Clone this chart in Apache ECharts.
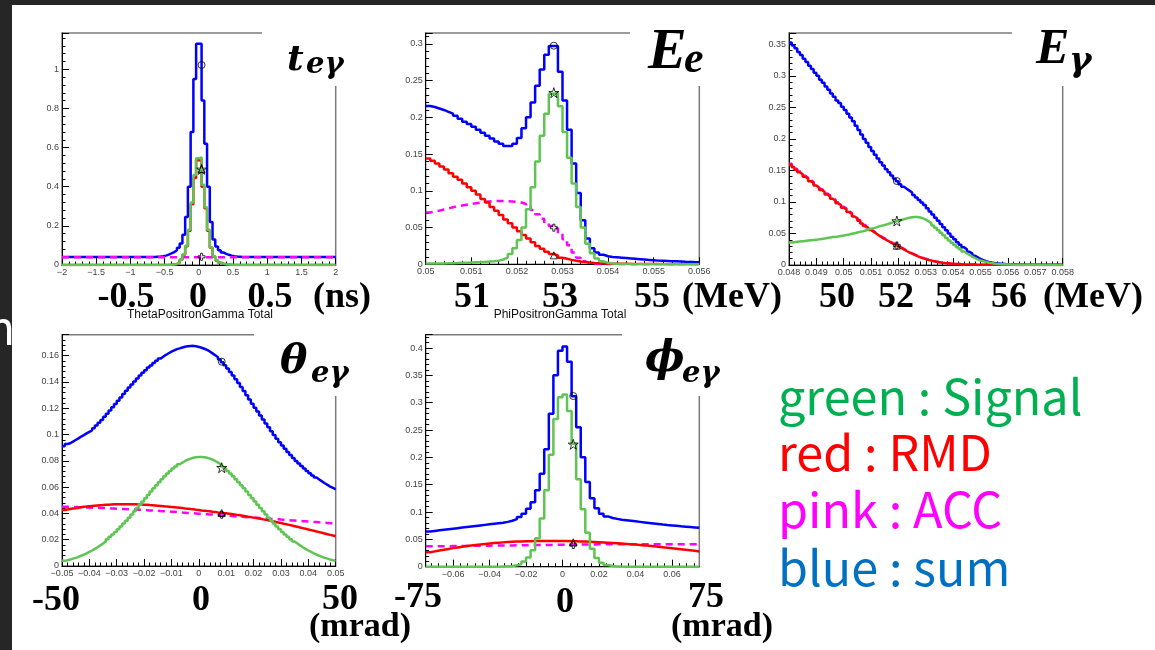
<!DOCTYPE html>
<html>
<head>
<meta charset="utf-8">
<title>Signal / RMD / ACC PDFs</title>
<script src="https://cdn.jsdelivr.net/npm/echarts@6/dist/echarts.min.js"></script>
<style>
html, body { margin: 0; padding: 0; background: #ffffff; }
#chart { width: 1155px; height: 650px; }
</style>
</head>
<body>
<div id="chart"></div>
<script>
// ---------- t_eγ : 100 bins, -2 .. 2 ns ----------
const tBinning = [-2, 0.04];
const tSum = [
  0.041,0.041,0.041,0.041,0.041,0.041,0.041,0.041,0.041,0.041,
  0.041,0.041,0.041,0.041,0.041,0.041,0.041,0.041,0.041,0.041,
  0.041,0.041,0.041,0.041,0.041,0.041,0.041,0.041,0.041,0.041,
  0.041,0.041,0.041,0.041,0.042,0.043,0.045,0.048,0.053,0.059,
  0.066,0.075,0.088,0.11,0.155,0.245,0.40,0.68,0.95,1.13,
  1.13,0.84,0.62,0.40,0.22,0.13,0.095,0.075,0.064,0.057,
  0.052,0.048,0.045,0.043,0.042,0.041,0.041,0.041,0.041,0.041,
  0.041,0.041,0.041,0.041,0.041,0.041,0.041,0.041,0.041,0.041,
  0.041,0.041,0.041,0.041,0.041,0.041,0.041,0.041,0.041,0.041,
  0.041,0.041,0.041,0.041,0.041,0.041,0.041,0.041,0.041,0.041
];
const tSig = [
  0,0,0,0,0,0,0,0,0,0, 0,0,0,0,0,0,0,0,0,0,
  0,0,0,0,0,0,0,0,0,0, 0,0,0,0,0,0,0,0,0,0.001,
  0.002,0.005,0.012,0.028,0.054,0.098,0.18,0.32,0.46,0.545,
  0.55,0.41,0.295,0.18,0.09,0.045,0.024,0.013,0.007,0.004,
  0.002,0.001,0,0,0,0,0,0,0,0, 0,0,0,0,0,0,0,0,0,0,
  0,0,0,0,0,0,0,0,0,0, 0,0,0,0,0,0,0,0,0,0
];
const tRmd = [
  0,0,0,0,0,0,0,0,0,0, 0,0,0,0,0,0,0,0,0,0,
  0,0,0,0,0,0,0,0,0,0, 0,0,0,0,0,0,0,0,0,0.001,
  0.002,0.005,0.011,0.027,0.052,0.096,0.175,0.31,0.445,0.535,
  0.54,0.40,0.29,0.175,0.088,0.044,0.023,0.012,0.007,0.004,
  0.002,0.001,0,0,0,0,0,0,0,0, 0,0,0,0,0,0,0,0,0,0,
  0,0,0,0,0,0,0,0,0,0, 0,0,0,0,0,0,0,0,0,0
];
const tAcc = [
  0.04,0.04,0.04,0.04,0.04,0.04,0.04,0.04,0.04,0.04,
  0.04,0.04,0.04,0.04,0.04,0.04,0.04,0.04,0.04,0.04,
  0.04,0.04,0.04,0.04,0.04,0.04,0.04,0.04,0.04,0.04,
  0.04,0.04,0.04,0.04,0.04,0.04,0.04,0.04,0.04,0.04,
  0.04,0.04,0.04,0.04,0.04,0.04,0.04,0.04,0.04,0.04,
  0.04,0.04,0.04,0.04,0.04,0.04,0.04,0.04,0.04,0.04,
  0.04,0.04,0.04,0.04,0.04,0.04,0.04,0.04,0.04,0.04,
  0.04,0.04,0.04,0.04,0.04,0.04,0.04,0.04,0.04,0.04,
  0.04,0.04,0.04,0.04,0.04,0.04,0.04,0.04,0.04,0.04,
  0.04,0.04,0.04,0.04,0.04,0.04,0.04,0.04,0.04,0.04
];
// marker x, then values for sum / signal / RMD / ACC
const tMarkX = 0.04;
const tMarkY = [1.022, 0.489, 0.49, 0.042];

// ---------- E_e : 60 bins, 0.050 .. 0.056 GeV ----------
const eBinning = [0.05, 0.0001];
const eSum = [
  0.2155,0.214,0.212,0.210,0.2075,0.205,0.202,0.198,0.194,0.191,
  0.187,0.183,0.179,0.175,0.171,0.167,0.164,0.161,0.161,0.164,
  0.172,0.185,0.20,0.22,0.243,0.265,0.285,0.297,0.297,0.262,
  0.223,0.183,0.137,0.097,0.060,0.035,0.022,0.016,0.013,0.011,
  0.010,0.0095,0.009,0.0085,0.008,0.0075,0.007,0.0065,0.006,0.0055,
  0.005,0.0048,0.0045,0.0042,0.004,0.0038,0.0035,0.0033,0.003,0.0028
];
const eSig = [
  0.001,0.001,0.001,0.0012,0.0013,0.0015,0.0017,0.002,0.0022,0.0025,
  0.0028,0.003,0.0033,0.0037,0.0042,0.005,0.0065,0.009,0.014,0.022,
  0.033,0.05,0.075,0.105,0.14,0.175,0.205,0.232,0.233,0.215,
  0.18,0.145,0.11,0.078,0.05,0.028,0.015,0.008,0.004,0.002,
  0.0012,0.0008,0.0005,0.0004,0.0003,0.0002,0.0002,0.0001,0.0001,0.0001,
  0.0001,0,0,0,0,0,0,0,0,0
];
const eRmd = [
  0.144,0.141,0.137,0.133,0.129,0.124,0.119,0.115,0.110,0.105,
  0.100,0.095,0.089,0.084,0.078,0.073,0.067,0.061,0.056,0.050,
  0.045,0.040,0.035,0.030,0.025,0.021,0.017,0.014,0.012,0.009,
  0.0075,0.006,0.0048,0.0038,0.003,0.0024,0.0019,0.0015,0.0012,0.001,
  0.0009,0.0008,0.0007,0.0006,0.0005,0.0005,0.0004,0.0004,0.0003,0.0003,
  0.0003,0.0002,0.0002,0.0002,0.0002,0.0001,0.0001,0.0001,0.0001,0.0001
];
const eAcc = [
  0.0705,0.0715,0.073,0.0745,0.076,0.0775,0.079,0.080,0.081,0.082,
  0.083,0.084,0.085,0.0855,0.086,0.0862,0.0862,0.086,0.0855,0.085,
  0.084,0.082,0.079,0.074,0.068,0.062,0.056,0.052,0.049,0.042,
  0.034,0.026,0.016,0.009,0.004,0.0015,0,0,0,0,
  0,0,0,0,0,0,0,0,0,0,
  0,0,0,0,0,0,0,0,0,0
];
const eMarkX = 0.05281;
const eMarkY = [0.2974, 0.2335, 0.0122, 0.0498];

// ---------- E_γ : 100 bins, 0.048 .. 0.058 GeV ----------
const gBinning = [0.048, 0.0001];
const gSum = [
  0.353,0.348,0.344,0.338,0.333,0.327,0.322,0.316,0.311,0.305,
  0.300,0.294,0.289,0.283,0.278,0.272,0.267,0.261,0.257,0.251,
  0.246,0.240,0.234,0.228,0.221,0.214,0.207,0.200,0.194,0.187,
  0.181,0.175,0.169,0.163,0.158,0.152,0.147,0.142,0.137,0.133,
  0.128,0.124,0.121,0.118,0.115,0.111,0.107,0.103,0.099,0.095,
  0.090,0.085,0.080,0.075,0.070,0.065,0.060,0.055,0.050,0.045,
  0.041,0.036,0.032,0.028,0.025,0.021,0.018,0.0145,0.012,0.0095,
  0.0078,0.0062,0.005,0.004,0.0033,0.0027,0.0022,0.0018,0.0014,0.0012,
  0.0011,0.0009,0.0008,0.0007,0.0006,0.0006,0.0005,0.0005,0.0004,0.0004,
  0.0003,0.0003,0.0003,0.0003,0.0002,0.0002,0.0002,0.0002,0.0002,0.0002
];
const gSig = [
  0.0357,0.0362,0.0367,0.0372,0.0377,0.0382,0.0387,0.0392,0.0397,0.0402,
  0.0407,0.0414,0.0421,0.0429,0.0437,0.0443,0.0447,0.0453,0.0461,0.0469,
  0.0476,0.0485,0.0495,0.0505,0.0515,0.0525,0.0535,0.0548,0.0563,0.0577,
  0.0585,0.0597,0.0612,0.0625,0.0635,0.0648,0.0663,0.0677,0.0689,0.0701,
  0.0714,0.0726,0.0739,0.0750,0.0758,0.0763,0.0762,0.0753,0.0739,0.0719,
  0.0693,0.0665,0.0628,0.0590,0.0550,0.0510,0.0470,0.0430,0.0390,0.0352,
  0.0318,0.0283,0.0248,0.0215,0.0185,0.0158,0.0133,0.0110,0.0090,0.0071,
  0.0060,0.0050,0.0040,0.0032,0.0025,0.0020,0.0016,0.0013,0.0010,0.0008,
  0.0007,0.0005,0.0004,0.0004,0.0003,0.0003,0.0002,0.0002,0.0002,0.0002,
  0.0001,0.0001,0.0001,0.0001,0.0001,0.0001,0.0001,0.0001,0.0001,0.0001
];
const gRmd = [
  0.159,0.155,0.151,0.147,0.144,0.140,0.137,0.133,0.130,0.126,
  0.123,0.119,0.116,0.112,0.109,0.105,0.102,0.098,0.095,0.091,
  0.088,0.084,0.081,0.077,0.074,0.070,0.066,0.062,0.059,0.0555,
  0.0525,0.0495,0.0465,0.0435,0.0412,0.0388,0.0362,0.0338,0.0320,0.0300,
  0.0272,0.0248,0.0222,0.0198,0.0180,0.0160,0.0140,0.0122,0.0108,0.0093,
  0.0080,0.0070,0.0060,0.0050,0.0043,0.0037,0.0032,0.0028,0.0022,0.0019,
  0.0016,0.0014,0.0011,0.0009,0.0008,0.0008,0.0006,0.0006,0.0005,0.0005,
  0.0004,0.0004,0.0003,0.0003,0.0003,0.0003,0.0002,0.0002,0.0002,0.0002,
  0.0002,0.0002,0.0001,0.0001,0.0001,0.0001,0.0001,0.0001,0.0001,0.0001,
  0.0001,0.0001,0,0,0,0,0,0,0,0
];
const gAcc = [
  0.1605,0.1565,0.1525,0.1485,0.1455,0.1415,0.1385,0.1345,0.1315,0.1275,
  0.1245,0.1205,0.1175,0.1135,0.1105,0.1065,0.1035,0.0995,0.0965,0.0925,
  0.0895,0.0855,0.0825,0.0785,0.0755,0.0715,0.0675,0.0635,0.060,0.0565,
  0.0535,0.0505,0.0475,0.0445,0.0422,0.0398,0.0372,0.0348,0.033,0.031,
  0.0282,0.0258,0.0227,0.0203,0.0185,0.0165,0.0145,0.0127,0.0113,0.0098,
  0.0085,0.0075,0.0063,0.0053,0.0045,0.0039,0.0033,0.0029,0.0023,0.002,
  0.0016,0.0014,0.0011,0.0009,0.0008,0.0008,0.0006,0.0006,0.0005,0.0005,
  0.0004,0.0004,0.0003,0.0003,0.0003,0.0003,0.0002,0.0002,0.0002,0.0002,
  0.0002,0.0002,0.0001,0.0001,0.0001,0.0001,0.0001,0.0001,0.0001,0.0001,
  0.0001,0.0001,0,0,0,0,0,0,0,0
];
const gMarkX = 0.05194;
const gMarkY = [0.1332, 0.0698, 0.0306, 0.031];

// ---------- θ_eγ : 100 bins, -0.05 .. 0.05 rad ----------
const thBinning = [-0.05, 0.001];
const thSum = [
  0.0912,0.0928,0.0934,0.0946,0.0959,0.0971,0.0984,0.0996,0.1009,0.1021,
  0.1032,0.1049,0.107,0.109,0.111,0.1135,0.1158,0.1183,0.1208,0.1233,
  0.1258,0.1283,0.1308,0.1333,0.1358,0.1382,0.1404,0.1426,0.1449,0.147,
  0.149,0.151,0.1526,0.1544,0.1561,0.1578,0.1593,0.1607,0.1619,0.1631,
  0.164,0.165,0.1656,0.1663,0.1668,0.1673,0.1674,0.1675,0.1672,0.1667,
  0.1661,0.1653,0.1644,0.1633,0.1618,0.1603,0.1588,0.1571,0.155,0.1528,
  0.1503,0.1477,0.1449,0.1421,0.1392,0.1362,0.1331,0.1299,0.1266,0.1234,
  0.1205,0.1175,0.1145,0.1115,0.1085,0.1055,0.1025,0.0996,0.0968,0.0942,
  0.0917,0.0893,0.0868,0.0844,0.0821,0.0799,0.078,0.076,0.0741,0.0722,
  0.0705,0.0689,0.0673,0.0658,0.0644,0.063,0.0617,0.0604,0.0594,0.0583
];
const thSig = [
  0.0039,0.0044,0.0049,0.0056,0.0062,0.0070,0.0078,0.0087,0.0096,0.0107,
  0.0118,0.0130,0.0143,0.0157,0.0172,0.0187,0.0204,0.0222,0.0240,0.0259,
  0.0280,0.0301,0.0323,0.0345,0.0368,0.0392,0.0416,0.0441,0.0466,0.0491,
  0.0516,0.0541,0.0566,0.0591,0.0615,0.0638,0.0661,0.0683,0.0704,0.0723,
  0.0742,0.0758,0.0774,0.0787,0.0799,0.0809,0.0817,0.0824,0.0828,0.0830,
  0.0830,0.0828,0.0824,0.0817,0.0809,0.0799,0.0787,0.0774,0.0758,0.0742,
  0.0723,0.0704,0.0683,0.0661,0.0638,0.0615,0.0591,0.0566,0.0541,0.0516,
  0.0491,0.0466,0.0441,0.0416,0.0392,0.0368,0.0345,0.0323,0.0301,0.0280,
  0.0259,0.0240,0.0222,0.0204,0.0187,0.0172,0.0157,0.0143,0.0130,0.0118,
  0.0107,0.0096,0.0087,0.0078,0.0070,0.0062,0.0056,0.0049,0.0044,0.0039
];
const thRmd = [
  0.0426,0.0430,0.0433,0.0437,0.0440,0.0444,0.0447,0.0450,0.0452,0.0455,
  0.0457,0.0459,0.0461,0.0463,0.0464,0.0466,0.0467,0.0468,0.0469,0.0469,
  0.0470,0.0470,0.0470,0.0470,0.0470,0.0470,0.0469,0.0468,0.0468,0.0466,
  0.0466,0.0464,0.0463,0.0461,0.0459,0.0457,0.0455,0.0453,0.0451,0.0449,
  0.0447,0.0445,0.0443,0.0441,0.0438,0.0436,0.0433,0.0431,0.0428,0.0426,
  0.0423,0.0421,0.0418,0.0416,0.0413,0.0411,0.0408,0.0406,0.0403,0.0401,
  0.0398,0.0395,0.0392,0.0389,0.0386,0.0383,0.0379,0.0375,0.0372,0.0368,
  0.0365,0.0361,0.0357,0.0353,0.0349,0.0345,0.0340,0.0336,0.0331,0.0327,
  0.0322,0.0318,0.0313,0.0308,0.0303,0.0298,0.0293,0.0288,0.0283,0.0278,
  0.0273,0.0268,0.0263,0.0258,0.0253,0.0247,0.0242,0.0237,0.0232,0.0227
];
const thAcc = [
  0.0450,0.0450,0.0449,0.0449,0.0448,0.0448,0.0447,0.0447,0.0446,0.0445,
  0.0444,0.0444,0.0443,0.0442,0.0441,0.0440,0.0439,0.0438,0.0437,0.0436,
  0.0435,0.0434,0.0433,0.0432,0.0431,0.0430,0.0429,0.0428,0.0427,0.0426,
  0.0425,0.0423,0.0422,0.0421,0.0420,0.0418,0.0417,0.0416,0.0415,0.0413,
  0.0412,0.0410,0.0409,0.0407,0.0406,0.0404,0.0403,0.0401,0.0400,0.0398,
  0.0397,0.0395,0.0394,0.0392,0.0391,0.0389,0.0388,0.0386,0.0385,0.0383,
  0.0382,0.0380,0.0379,0.0377,0.0376,0.0374,0.0373,0.0371,0.0370,0.0368,
  0.0367,0.0365,0.0364,0.0362,0.0361,0.0359,0.0358,0.0356,0.0355,0.0353,
  0.0352,0.0350,0.0349,0.0347,0.0346,0.0344,0.0343,0.0341,0.0340,0.0338,
  0.0337,0.0335,0.0334,0.0332,0.0331,0.0329,0.0328,0.0326,0.0325,0.0323
];
const thMarkX = 0.00835;
const thMarkY = [0.1555, 0.0748, 0.0403, 0.039];

// ---------- φ_eγ : 60 bins, -0.075 .. 0.075 rad ----------
const phBinning = [-0.075, 0.0025];
const phSum = [
  0.0645,0.0655,0.0665,0.0675,0.0685,0.0695,0.0705,0.0715,0.0725,0.0735,
  0.0745,0.0755,0.0765,0.0775,0.0785,0.0795,0.0805,0.082,0.084,0.087,
  0.091,0.097,0.106,0.118,0.140,0.170,0.215,0.280,0.350,0.395,
  0.403,0.375,0.312,0.255,0.200,0.155,0.125,0.107,0.097,0.092,
  0.089,0.0875,0.086,0.085,0.084,0.083,0.082,0.081,0.080,0.079,
  0.078,0.077,0.0762,0.0755,0.0748,0.074,0.0733,0.0726,0.0719,0.0712
];
const phSig = [
  0,0,0,0,0,0,0,0,0,0,
  0,0,0,0,0,0,0.0003,0.0006,0.0012,0.0025,
  0.005,0.0095,0.017,0.030,0.052,0.088,0.14,0.205,0.27,0.31,
  0.315,0.285,0.225,0.16,0.105,0.062,0.033,0.016,0.007,0.003,
  0.0012,0.0005,0.0002,0,0,0,0,0,0,0,
  0,0,0,0,0,0,0,0,0,0
];
const phRmd = [
  0.0265,0.028,0.0295,0.031,0.0325,0.034,0.0353,0.0365,0.0377,0.0388,
  0.0398,0.0408,0.0417,0.0425,0.0432,0.0439,0.0445,0.045,0.0455,0.0459,
  0.0462,0.0465,0.0467,0.0469,0.047,0.0471,0.0471,0.0471,0.047,0.0469,
  0.0468,0.0466,0.0464,0.0462,0.0459,0.0456,0.0452,0.0448,0.0444,0.0439,
  0.0434,0.0429,0.0423,0.0417,0.0411,0.0404,0.0397,0.039,0.0382,0.0374,
  0.0366,0.0357,0.0348,0.0339,0.033,0.032,0.031,0.030,0.029,0.028
];
const phAcc = [
  0.0372,0.0373,0.0374,0.0375,0.0376,0.0377,0.0378,0.0379,0.038,0.0381,
  0.0382,0.0383,0.0384,0.0385,0.0386,0.0387,0.0388,0.0389,0.039,0.0391,
  0.0392,0.0393,0.0394,0.0395,0.0396,0.0397,0.0398,0.0399,0.04,0.0401,
  0.0402,0.0403,0.0404,0.0405,0.0406,0.0407,0.0408,0.0409,0.041,0.041,
  0.041,0.041,0.041,0.041,0.041,0.041,0.041,0.041,0.041,0.041,
  0.041,0.041,0.041,0.041,0.041,0.041,0.041,0.041,0.041,0.041
];
const phMarkX = 0.0059;
const phMarkY = [0.3122, 0.2239, 0.0446, 0.0397];
const phTicks = [-0.06, -0.04, -0.02, 0, 0.02, 0.04, 0.06];

// ---------- slide text ----------
const panelSymbols = [['t', 'eγ'], ['E', 'e'], ['E', 'γ'], ['θ', 'eγ'], ['ϕ', 'eγ']];
const unitLabelsTop = ['-0.5', '0', '0.5', '(ns)', '51', '53', '55', '(MeV)', '50', '52', '54', '56', '(MeV)'];
const unitLabelsBottom = ['-50', '0', '50', '(mrad)', '-75', '0', '75', '(mrad)'];
const histTitles = ['ThetaPositronGamma Total', 'PhiPositronGamma Total'];
const legendLines = ['green : Signal', 'red : RMD', 'pink : ACC', 'blue : sum'];

// ================= drawing =================
const COL = { sum: '#0000ff', sig: '#5fc552', rmd: '#ff0000', acc: '#ff00ff' };
const LEGEND_COL = ['#00b050', '#ff0000', '#ff00ff', '#0070c0'];
const SANS = '"Liberation Sans", Arial, sans-serif';
const SERIF = '"Liberation Serif", "Times New Roman", serif';
const MATH = '"DejaVu Serif", "Liberation Serif", serif';
const CJK = '"Noto Sans CJK JP", "Noto Sans", sans-serif';

const panels = [
  { bin: tBinning,  h: [tSum, tSig, tRmd, tAcc],     mx: tMarkX,  my: tMarkY,  x: [-2, 2, 0.5],          y: [1.1855, 0.2],
    box: [62, 33, 273.7, 232] },
  { bin: eBinning,  h: [eSum, eSig, eRmd, eAcc],     mx: eMarkX,  my: eMarkY,  x: [0.05, 0.056, 0.001],   y: [0.3147, 0.05],
    box: [425.7, 33, 273.6, 231.3] },
  { bin: gBinning,  h: [gSum, gSig, gRmd, gAcc],     mx: gMarkX,  my: gMarkY,  x: [0.048, 0.058, 0.001],  y: [0.368, 0.05],
    box: [789, 33, 273.7, 232] },
  { bin: thBinning, h: [thSum, thSig, thRmd, thAcc], mx: thMarkX, my: thMarkY, x: [-0.05, 0.05, 0.01],    y: [0.176, 0.02],
    box: [62, 334.7, 273.7, 231.3] },
  { bin: phBinning, h: [phSum, phSig, phRmd, phAcc], mx: phMarkX, my: phMarkY, x: [-0.075, 0.075, null],  y: [0.4244, 0.05],
    box: [425.7, 334.7, 273.6, 232] }
];

// histogram -> step polyline through bin low edges plus the last upper edge
function histPoints(binning, vals) {
  const lo = binning[0], w = binning[1];
  const pts = vals.map((v, i) => [lo + i * w, v]);
  pts.push([lo + vals.length * w, vals[vals.length - 1]]);
  return pts;
}

function tickText(v) {
  const s = String(parseFloat(Math.abs(v).toFixed(6)));
  return (v < -1e-12 ? '\u2212' : '') + s;
}
function onGrid(step) {
  return function (v) {
    if (step == null) return tickText(v);
    const k = v / step;
    return Math.abs(k - Math.round(k)) < 1e-6 ? tickText(v) : '';
  };
}

const tickLabel = (step) => ({ margin: 3, fontSize: 9, color: '#444', fontFamily: SANS, formatter: onGrid(step),
  showMinLabel: true, showMaxLabel: true, hideOverlap: false });

const grid = [], xAxis = [], yAxis = [], series = [];

panels.forEach((p, i) => {
  grid.push({ left: p.box[0], top: p.box[1], width: p.box[2], height: p.box[3],
    show: true, borderColor: '#7c7c7c', borderWidth: 1.5, backgroundColor: 'transparent',
    containLabel: false, outerBoundsMode: 'none' });

  const xa = { type: 'value', gridIndex: i, min: p.x[0], max: p.x[1], position: 'bottom',
    axisLine: { show: true, onZero: false, lineStyle: { color: '#000', width: 1 } },
    axisTick: { show: true, inside: true, length: 7, lineStyle: { color: '#000', width: 1 } },
    minorTick: { show: true, splitNumber: 5, length: 3.5, lineStyle: { color: '#000', width: 1 } },
    axisLabel: tickLabel(p.x[2]),
    splitLine: { show: false }, minorSplitLine: { show: false } };
  if (p.x[2] != null) {
    xa.interval = p.x[2];
  } else {
    xa.minorTick = { show: false };
    xa.axisTick.customValues = phTicks;
    xa.axisLabel.customValues = phTicks;
  }
  xAxis.push(xa);

  yAxis.push({ type: 'value', gridIndex: i, min: 0, max: p.y[0], interval: p.y[1], position: 'left',
    axisLine: { show: true, onZero: false, lineStyle: { color: '#000', width: 1 } },
    axisTick: { show: true, inside: true, length: 7, lineStyle: { color: '#000', width: 1 } },
    minorTick: { show: true, splitNumber: 5, length: 3.5, lineStyle: { color: '#000', width: 1 } },
    axisLabel: tickLabel(p.y[1]),
    splitLine: { show: false }, minorSplitLine: { show: false } });

  // drawing order: sum, ACC, RMD, signal, then the markers
  const order = [[0, COL.sum, false], [3, COL.acc, true], [2, COL.rmd, false], [1, COL.sig, false]];
  order.forEach(([k, color, dashed]) => {
    series.push({ type: 'line', xAxisIndex: i, yAxisIndex: i, step: 'end', symbol: 'none', showSymbol: false,
      clip: true, silent: true, data: histPoints(p.bin, p.h[k]),
      lineStyle: { color: color, width: 2.5, type: dashed ? [7, 5] : 'solid', cap: 'butt' } });
  });

  const STAR = 'path://M50 0L61.2 34.5H97.6L68.2 55.9L79.4 90.5L50 69.1L20.6 90.5L31.8 55.9L2.4 34.5H38.8Z';
  const CROSS = 'path://M35 0H65V35H100V65H65V100H35V65H0V35H35Z';
  const syms = [['circle', 7], [STAR, 10], ['triangle', 7], [CROSS, 7]];
  series.push({ type: 'scatter', xAxisIndex: i, yAxisIndex: i, z: 4, silent: true,
    itemStyle: { color: 'rgba(0,0,0,0)', borderColor: '#000', borderWidth: 1 },
    data: p.my.map((y, k) => ({ value: [p.mx, y], symbol: syms[k][0], symbolSize: syms[k][1] })) });
});

// minor ticks for the φ panel (major ticks are not aligned with the axis minimum)
const phMinor = [];
for (let v = -0.072; v < 0.0725; v += 0.004) {
  const r = Math.round(v * 1000) / 1000;
  if (Math.abs(r / 0.02 - Math.round(r / 0.02)) > 1e-6) phMinor.push(r);
}
xAxis.push({ type: 'value', gridIndex: 4, min: -0.075, max: 0.075, position: 'bottom',
  axisLine: { show: false }, axisLabel: { show: false }, splitLine: { show: false },
  axisTick: { show: true, inside: true, length: 3.5, customValues: phMinor, lineStyle: { color: '#000', width: 1 } } });

// ---------- slide overlay ----------
const graphic = [];
function text(x, y, str, font, color, align) {
  return { type: 'text', x: x, y: y, z: 60, silent: true,
    style: Object.assign({ text: str, fill: color, textAlign: align, align: align,
      textVerticalAlign: 'middle', verticalAlign: 'middle' }, font) };
}
// page frame
graphic.push({ type: 'rect', z: 1, silent: true, shape: { x: 0, y: 0, width: 1155, height: 5 }, style: { fill: '#262626' } });
graphic.push({ type: 'rect', z: 1, silent: true, shape: { x: 0, y: 0, width: 12, height: 650 }, style: { fill: '#262626' } });
graphic.push(text(15, 328, 'n', { fontFamily: CJK, fontSize: 46 }, '#ffffff', 'right'));

// white boxes holding the variable names (they overlap the frame corner)
const covers = [[262, 20, 92, 66], [630, 20, 82, 66], [1012, 20, 75, 66], [254, 320, 95, 76], [622, 320, 92, 76]];
covers.forEach(c => graphic.push({ type: 'rect', z: 50, silent: true,
  shape: { x: c[0], y: c[1], width: c[2], height: c[3] }, style: { fill: '#ffffff' } }));

// histogram titles
const titlePos = [[200, 314.5], [560, 314.5]];
histTitles.forEach((s, k) => graphic.push(text(titlePos[k][0], titlePos[k][1], s, { fontFamily: SANS, fontSize: 12 }, '#111', 'center')));

// variable names: [font, main x, baseline, size, sub font, sub x, baseline, size]
const symPos = [
  [MATH, 287, 73, 36, MATH, 306, 76, 29],
  [SERIF, 648, 73, 58, SERIF, 684, 75, 44],
  [SERIF, 1036, 67, 50, MATH, 1069, 74, 34],
  [MATH, 280, 377, 41, MATH, 311, 385, 29],
  [MATH, 645, 375, 42, MATH, 682, 385, 29]
];
function mid(font, baseline, size) {
  return baseline - (font === MATH ? 0.346 : 0.3375) * size;
}
panelSymbols.forEach((s, k) => {
  const q = symPos[k];
  graphic.push(text(q[1], mid(q[0], q[2], q[3]), s[0], { fontFamily: q[0], fontSize: q[3], fontWeight: 'bold', fontStyle: 'italic' }, '#000', 'left'));
  graphic.push(text(q[5], mid(q[4], q[6], q[7]), s[1], { fontFamily: q[4], fontSize: q[7], fontWeight: 'bold', fontStyle: 'italic' }, '#000', 'left'));
});

// physical-unit annotations under the axes: [centre x, baseline]
const topPos = [[126, 310], [198, 310], [270, 310], [342, 310], [472, 310], [560, 310], [652, 310], [732, 310],
  [837, 310], [896, 310], [953, 310], [1009, 310], [1093, 310]];
unitLabelsTop.forEach((s, k) => graphic.push(text(topPos[k][0], topPos[k][1] - 0.3375 * 36, s,
  { fontFamily: SERIF, fontSize: 36, fontWeight: 'bold' }, '#000', 'center')));
const botPos = [[56, 613, 36], [201, 613, 36], [340, 612, 36], [360, 639, 34], [418, 610, 36], [565, 615, 36], [706, 610, 36], [722, 639, 34]];
unitLabelsBottom.forEach((s, k) => graphic.push(text(botPos[k][0], botPos[k][1] - 0.3375 * botPos[k][2], s,
  { fontFamily: SERIF, fontSize: botPos[k][2], fontWeight: 'bold' }, '#000', 'center')));

// colour key
const legendBase = [415, 471, 528, 586];
legendLines.forEach((s, k) => graphic.push(text(778, legendBase[k] - 0.38 * 48.5, s,
  { fontFamily: CJK, fontSize: 48.5 }, LEGEND_COL[k], 'left')));

const chart = echarts.init(document.getElementById('chart'), null, { renderer: 'canvas' });
chart.setOption({
  animation: false,
  backgroundColor: '#ffffff',
  grid: grid, xAxis: xAxis, yAxis: yAxis, series: series, graphic: graphic
});
</script>
</body>
</html>
